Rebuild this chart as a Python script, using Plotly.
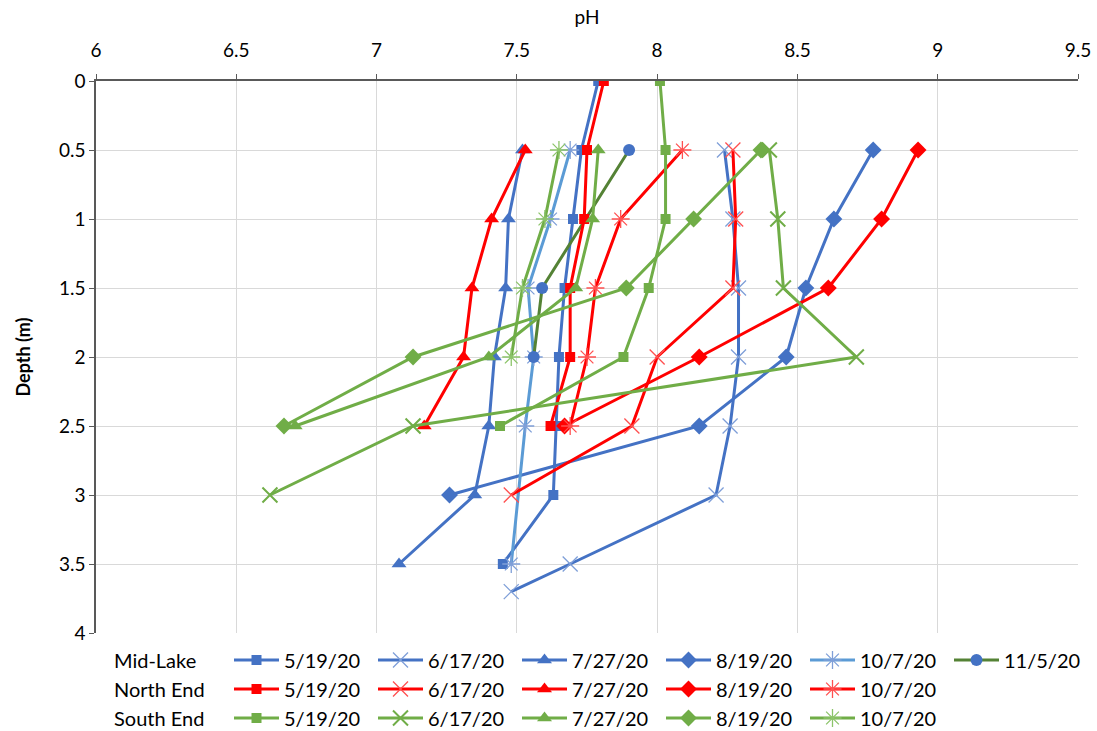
import plotly.graph_objects as go

# --- pH depth profiles -------------------------------------------------------
dates = ["5/19/20", "6/17/20", "7/27/20", "8/19/20", "10/7/20", "11/5/20"]

# Mid-Lake
mid_depth_0519 = [0, 0.5, 1, 1.5, 2, 2.5, 3, 3.5]
mid_ph_0519 = [7.79, 7.73, 7.70, 7.67, 7.65, 7.64, 7.63, 7.45]
mid_depth_0617 = [0.5, 1, 1.5, 2, 2.5, 3, 3.5, 3.7]
mid_ph_0617 = [8.24, 8.27, 8.29, 8.29, 8.26, 8.21, 7.69, 7.48]
mid_depth_0727 = [0.5, 1, 1.5, 2, 2.5, 3, 3.5]
mid_ph_0727 = [7.52, 7.47, 7.46, 7.42, 7.40, 7.35, 7.08]
mid_depth_0819 = [0.5, 1, 1.5, 2, 2.5, 3]
mid_ph_0819 = [8.77, 8.63, 8.53, 8.46, 8.15, 7.26]
mid_depth_1007 = [0.5, 1, 1.5, 2, 2.5, 3.5]
mid_ph_1007 = [7.69, 7.62, 7.54, 7.56, 7.53, 7.48]
mid_depth_1105 = [0.5, 1.5, 2]
mid_ph_1105 = [7.90, 7.59, 7.56]

# North End
north_depth_0519 = [0, 0.5, 1, 1.5, 2, 2.5]
north_ph_0519 = [7.81, 7.75, 7.74, 7.69, 7.69, 7.62]
north_depth_0617 = [0.5, 1, 1.5, 2, 2.5, 3]
north_ph_0617 = [8.27, 8.28, 8.27, 8.00, 7.91, 7.48]
north_depth_0727 = [0.5, 1, 1.5, 2, 2.5]
north_ph_0727 = [7.53, 7.41, 7.34, 7.31, 7.17]
north_depth_0819 = [0.5, 1, 1.5, 2, 2.5]
north_ph_0819 = [8.93, 8.80, 8.61, 8.15, 7.67]
north_depth_1007 = [0.5, 1, 1.5, 2, 2.5]
north_ph_1007 = [8.09, 7.87, 7.78, 7.75, 7.69]

# South End
south_depth_0519 = [0, 0.5, 1, 1.5, 2, 2.5]
south_ph_0519 = [8.01, 8.03, 8.03, 7.97, 7.88, 7.44]
south_depth_0617 = [0.5, 1, 1.5, 2, 2.5, 3]
south_ph_0617 = [8.40, 8.43, 8.45, 8.71, 7.13, 6.62]
south_depth_0727 = [0.5, 1, 1.5, 2, 2.5]
south_ph_0727 = [7.79, 7.77, 7.71, 7.40, 6.71]
south_depth_0819 = [0.5, 1, 1.5, 2, 2.5]
south_ph_0819 = [8.37, 8.13, 7.89, 7.13, 6.67]
south_depth_1007 = [0.5, 1, 1.5, 2]
south_ph_1007 = [7.65, 7.60, 7.52, 7.48]

x_ticks = [6, 6.5, 7, 7.5, 8, 8.5, 9, 9.5]
y_ticks = [0, 0.5, 1, 1.5, 2, 2.5, 3, 3.5, 4]

BLUE = "#4472C4"
BLUE_X = "#7F9FD8"
LIGHT_BLUE = "#5B9BD5"
DARK_GREEN = "#548235"
RED = "#FF0000"
RED_X = "#FF5050"
GREEN = "#70AD47"

FONT = "Lato, 'Open Sans', sans-serif"

fig = go.Figure()


def add(ph, depth, name, color, symbol, size, legend, marker_color=None,
        open_line=None):
    marker = dict(symbol=symbol, size=size, color=marker_color or color)
    if open_line:
        marker["line"] = dict(color=marker_color or color, width=open_line)
    fig.add_trace(go.Scatter(
        x=ph, y=depth, name=name, mode="lines+markers",
        line=dict(color=color, width=3), marker=marker,
        legend=legend, showlegend=True,
    ))


# Mid-Lake
add(mid_ph_0519, mid_depth_0519, dates[0], BLUE, "square", 10, "legend")
add(mid_ph_0617, mid_depth_0617, dates[1], BLUE, "x-thin-open", 15, "legend",
    marker_color=BLUE_X, open_line=1.3)
add(mid_ph_0727, mid_depth_0727, dates[2], BLUE, "triangle-up", 13, "legend")
add(mid_ph_0819, mid_depth_0819, dates[3], BLUE, "diamond", 13, "legend")
add(mid_ph_1007, mid_depth_1007, dates[4], LIGHT_BLUE, "asterisk-open", 15,
    "legend", marker_color=BLUE_X, open_line=1.3)
add(mid_ph_1105, mid_depth_1105, dates[5], DARK_GREEN, "circle", 12, "legend",
    marker_color=BLUE)

# North End
add(north_ph_0519, north_depth_0519, dates[0], RED, "square", 10, "legend2")
add(north_ph_0617, north_depth_0617, dates[1], RED, "x-thin-open", 15,
    "legend2", marker_color=RED_X, open_line=1.3)
add(north_ph_0727, north_depth_0727, dates[2], RED, "triangle-up", 13, "legend2")
add(north_ph_0819, north_depth_0819, dates[3], RED, "diamond", 13, "legend2")
add(north_ph_1007, north_depth_1007, dates[4], RED, "asterisk-open", 15,
    "legend2", marker_color=RED_X, open_line=1.3)

# South End
add(south_ph_0519, south_depth_0519, dates[0], GREEN, "square", 10, "legend3")
add(south_ph_0617, south_depth_0617, dates[1], GREEN, "x-thin-open", 15,
    "legend3", open_line=2)
add(south_ph_0727, south_depth_0727, dates[2], GREEN, "triangle-up", 13, "legend3")
add(south_ph_0819, south_depth_0819, dates[3], GREEN, "diamond", 13, "legend3")
add(south_ph_1007, south_depth_1007, dates[4], GREEN, "asterisk-open", 15,
    "legend3", marker_color="#8CC46A", open_line=1.3)

# plot area spans 96..1078 px horizontally and 81..633 px vertically
L, R, T, B = 96, 19, 81, 98
W, H = 1097, 731
pw, ph_ = W - L - R, H - T - B


def px_x(px):
    return (px - L) / pw


def px_y(py):
    return (H - B - py) / ph_


legend_common = dict(
    orientation="h", xanchor="left", yanchor="middle", traceorder="normal",
    entrywidth=84, entrywidthmode="pixels", itemwidth=45,
    font=dict(family=FONT, size=20, color="#000000"),
    bgcolor="rgba(0,0,0,0)", borderwidth=0,
)

row_labels = ["Mid-Lake", "North End", "South End"]
row_y = [660, 689, 718]
legend_left = 229

fig.update_layout(
    width=W, height=H,
    margin=dict(l=L, r=R, t=T, b=B, autoexpand=False),
    paper_bgcolor="white", plot_bgcolor="white",
    font=dict(family=FONT, size=18, color="#000000"),
    legend=dict(x=px_x(legend_left), y=px_y(row_y[0]), **legend_common),
    legend2=dict(x=px_x(legend_left), y=px_y(row_y[1]), **legend_common),
    legend3=dict(x=px_x(legend_left), y=px_y(row_y[2]), **legend_common),
    xaxis=dict(
        side="top", range=[6, 9.5], tickvals=x_ticks,
        showgrid=True, gridcolor="#D9D9D9", gridwidth=1.3,
        showline=True, linecolor="#595959", linewidth=1.5,
        ticks="outside", ticklen=5, tickcolor="#595959",
        ticklabelstandoff=10,
        zeroline=False,
        tickfont=dict(family=FONT, size=19, color="#000000"),
        title=dict(text="pH", standoff=8,
                   font=dict(family=FONT, size=19, color="#000000")),
    ),
    yaxis=dict(
        range=[4, 0], tickvals=y_ticks,
        showgrid=True, gridcolor="#D9D9D9", gridwidth=1.3,
        showline=True, linecolor="#595959", linewidth=1.5,
        ticks="outside", ticklen=5, tickcolor="#595959",
        zeroline=False,
        tickfont=dict(family=FONT, size=19, color="#000000"),
        title=dict(text="<b>Depth (m)</b>", standoff=24,
                   font=dict(family=FONT, size=18, color="#000000")),
    ),
)

for label, yy in zip(row_labels, row_y):
    fig.add_annotation(
        x=px_x(112), y=px_y(yy), xref="paper", yref="paper",
        xanchor="left", yanchor="middle", showarrow=False,
        text=label, font=dict(family=FONT, size=20, color="#000000"),
    )

fig.write_html("out.html")
